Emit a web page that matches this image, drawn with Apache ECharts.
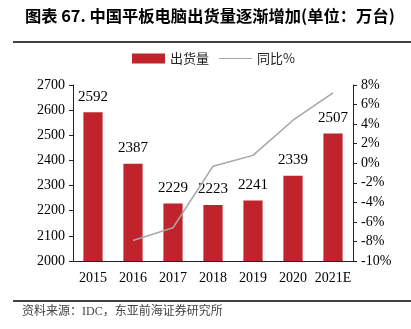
<!DOCTYPE html>
<html><head><meta charset="utf-8">
<script src="https://cdn.jsdelivr.net/npm/echarts@6/dist/echarts.min.js"></script>
<style>html,body{margin:0;padding:0;background:#fff}#c{width:411px;height:329px}</style>
</head><body><div id="c"></div>
<script>
const categories = ['2015','2016','2017','2018','2019','2020','2021E'];
const shipments = [2592, 2387, 2229, 2223, 2241, 2339, 2507];
const yoy = [null, -7.9, -6.6, -0.3, 0.8, 4.4, 7.2];
const leftTicks = {min: 2000, max: 2700, interval: 100};
const rightTicks = {min: -10, max: 8, interval: 2};

const serif = '"Liberation Serif","Times New Roman",serif';
const cjk = '"Noto Sans CJK SC","Noto Sans",sans-serif';
const chart = echarts.init(document.getElementById('c'));
chart.setOption({
  animation: false,
  backgroundColor: '#fff',
  graphic: [
    {type:'text', left: 25, top: 8, style:{text:'图表 67. 中国平板电脑出货量逐渐增加(单位：万台)', font:'bold 16.3px '+cjk, fill:'#000'}},
    {type:'line', shape:{x1:13,y1:42,x2:411,y2:42}, style:{stroke:'#000', lineWidth:1.5}},
    {type:'line', shape:{x1:13,y1:301,x2:411,y2:301}, style:{stroke:'#000', lineWidth:1.5}},
    {type:'text', left: 22, top: 306, style:{text:'资料来源：IDC，东亚前海证券研究所', font:'12px '+serif+',"Noto Sans CJK SC"', fill:'#444'}}
  ],
  legend: {
    orient: 'horizontal', top: 52, left: 132, padding: 0, itemWidth: 33, itemHeight: 10, itemGap: 10,
    textStyle: {fontFamily: cjk, fontSize: 13, color: '#222'},
    data: [
      {name:'出货量', icon:'rect'},
      {name:'同比%', icon:'path://M0,4.6L30,4.6L30,5.4L0,5.4Z', itemStyle:{color:'#a6a6a6'}}
    ]
  },
  grid: {left: 73, right: 58, top: 85, bottom: 68},
  xAxis: {
    type: 'category', data: categories,
    axisLine: {onZero: false, lineStyle:{color:'#222'}}, axisTick: {show:false},
    axisLabel: {fontFamily: serif, fontSize: 14, color: '#000', margin: 10, interval: 0}
  },
  yAxis: [
    {type:'value', min: leftTicks.min, max: leftTicks.max, interval: leftTicks.interval,
     splitLine:{show:false}, axisLine:{show:true, lineStyle:{color:'#222'}},
     axisTick:{show:true, length:4, lineStyle:{color:'#222'}},
     axisLabel:{fontFamily: serif, fontSize: 14, color:'#000', margin: 8, formatter: v => String(v)}},
    {type:'value', min: rightTicks.min, max: rightTicks.max, interval: rightTicks.interval,
     splitLine:{show:false}, axisLine:{show:true, lineStyle:{color:'#222'}},
     axisTick:{show:true, length:4, lineStyle:{color:'#222'}},
     axisLabel:{fontFamily: serif, fontSize: 14, color:'#000', margin: 8, formatter: '{value}%'}}
  ],
  series: [
    {name:'出货量', type:'bar', data: shipments, barWidth: '48%', itemStyle:{color:'#c0232c'},
     label:{show:true, position:'top', distance: 8, fontFamily: serif, fontSize: 15, color:'#000'}},
    {name:'同比%', type:'line', yAxisIndex: 1, data: yoy, symbol:'none', connectNulls:false,
     lineStyle:{color:'#a6a6a6', width: 1.5}, itemStyle:{color:'#a6a6a6'}}
  ]
});
</script></body></html>
